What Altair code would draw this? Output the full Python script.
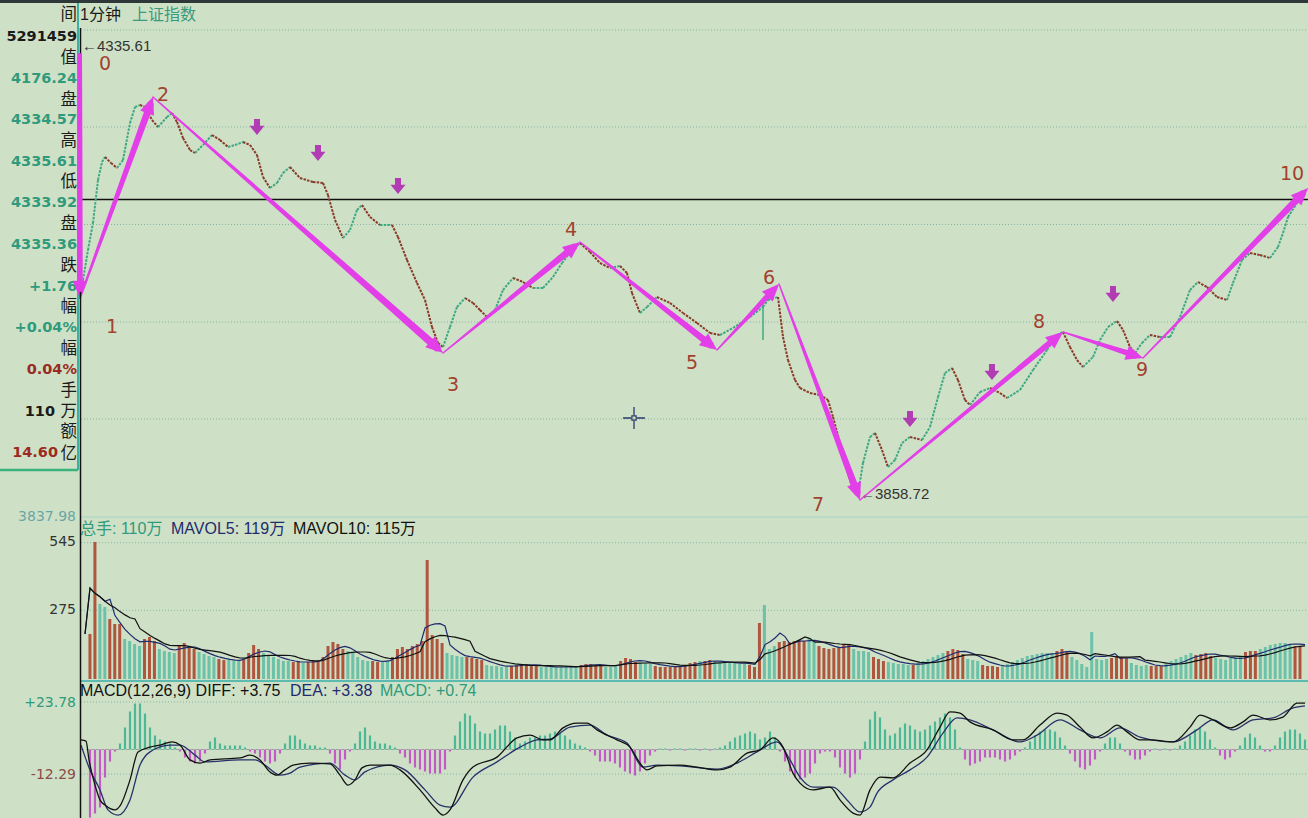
import math
import altair as alt
import numpy as np
import pandas as pd

# ---------------- data ----------------
# 1-minute index price (time in minutes, price in index points)
PRICE_T = [0.2, 0.6, 1.6, 2.6, 3.6, 4.4, 5.0, 6.2, 7.4, 8.6,
           10.0, 11.0, 12.0, 13.0, 14.4, 15.6, 17.4, 18.4, 19.4, 20.6,
           22.0, 23.0, 24.6, 26.4, 28.0, 29.6, 31.0, 32.6, 34.0, 35.4,
           36.6, 38.0, 39.4, 40.6, 42.0, 44.0, 46.6, 48.6, 49.6, 51.0,
           52.6, 54.0, 55.4, 56.4, 58.0, 60.0, 62.4, 63.6, 65.4, 67.4,
           69.0, 70.4, 71.6, 72.6, 74.0, 75.4, 77.0, 78.6, 80.0, 81.4,
           83.0, 84.6, 86.6, 88.6, 90.6, 92.6, 94.6, 96.4, 98.4, 100.0,
           102.0, 104.0, 106.0, 108.0, 109.4, 110.4, 112.0, 113.4, 115.4, 118.0,
           120.6, 123.4, 126.0, 128.0, 130.6, 134.0, 136.6, 137.6, 139.6, 140.6,
           141.6, 143.0, 144.0, 146.0, 148.0, 149.6, 150.6, 152.0, 153.4, 154.6,
           155.6, 156.6, 158.0, 159.0, 160.4, 161.6, 163.0, 164.4, 166.0, 168.4,
           170.0, 171.6, 173.0, 174.4, 175.6, 177.0, 178.0, 180.0, 182.0, 184.0,
           185.4, 188.0, 190.6, 193.4, 195.4, 196.6, 198.0, 199.4, 200.6, 202.6,
           204.0, 205.6, 207.4, 208.6, 210.0, 211.0, 212.4, 214.0, 216.0, 218.0,
           220.0, 222.0, 223.6, 225.4, 227.4, 229.4, 230.6, 232.4, 234.0, 236.0,
           238.0, 239.6, 240.6, 241.6, 243.4, 245.0]
PRICE_P = [4061, 4073, 4103, 4130, 4173, 4191, 4196, 4190, 4185, 4193,
           4230, 4246, 4248, 4246, 4233, 4226, 4236, 4240, 4231, 4215,
           4203, 4200, 4208, 4218, 4213, 4206, 4208, 4211, 4208, 4198,
           4176, 4165, 4170, 4180, 4186, 4175, 4171, 4170, 4158, 4133,
           4115, 4123, 4143, 4148, 4136, 4128, 4128, 4116, 4093, 4070,
           4053, 4026, 4010, 4006, 4026, 4046, 4055, 4050, 4043, 4036,
           4043, 4063, 4075, 4071, 4065, 4065, 4076, 4090, 4103, 4110,
           4101, 4090, 4085, 4087, 4080, 4060, 4040, 4046, 4056, 4050,
           4040, 4030, 4020, 4018, 4025, 4036, 4046, 4053, 4056, 4016,
           3993, 3973, 3965, 3960, 3958, 3953, 3936, 3910, 3883, 3863,
           3858.72, 3890, 3916, 3920, 3903, 3886, 3893, 3910, 3916, 3913,
           3926, 3956, 3980, 3985, 3973, 3953, 3948, 3961, 3965, 3960,
           3955, 3963, 3983, 4003, 4018, 4021, 4006, 3993, 3986, 3996,
           4013, 4026, 4032, 4023, 4006, 4000, 4010, 4018, 4016, 4016,
           4036, 4063, 4071, 4066, 4056, 4053, 4070, 4093, 4100, 4098,
           4095, 4106, 4120, 4136, 4150, 4158]
SPIKE_T = [136.6]
SPIKE_LOW = [4013]
SPIKE_HIGH = [4052]
PREV_CLOSE = 4153.5
PRICE_GRID = [4323, 4226, 4128.5, 4031, 3934]

# hand-drawn wave points 0..10 and their labels
WAVE_NAMES = ["0", "1", "2", "3", "4", "5", "6", "7", "8", "9", "10"]
WAVE_T = [0.0, 0.0, 14.6, 72.6, 100.0, 127.4, 139.8, 156.0, 196.6, 212.6, 245.6]
WAVE_P = [4298, 4055, 4256, 4000, 4111, 4003, 4069, 3853, 4021, 3995, 4165]
LABEL_T = [5.0, 6.4, 16.6, 74.6, 98.2, 122.4, 137.8, 147.6, 191.8, 212.4, 242.4]
LABEL_P = [4289, 4026, 4258, 3968, 4123, 3990, 4075, 3848, 4031, 3983, 4179]
SELL_T = [35.4, 47.6, 63.6, 166.0, 182.4, 206.6]
SELL_P = [4226, 4200, 4167, 3934, 3981, 4059]

# volume per minute (t = 1..245) and bar colour (r = red, g = green)
VOL = [180, 548, 300, 288, 240, 220, 220, 160, 152, 140,
       132, 160, 168, 152, 120, 112, 108, 104, 136, 144,
       132, 120, 108, 100, 92, 88, 80, 76, 76, 72,
       72, 76, 104, 136, 120, 104, 96, 88, 80, 72,
       72, 68, 68, 64, 68, 72, 72, 88, 132, 148,
       140, 120, 112, 104, 88, 76, 72, 72, 68, 68,
       72, 88, 120, 128, 120, 132, 140, 152, 476, 176,
       160, 144, 104, 96, 92, 88, 88, 84, 80, 76,
       56, 52, 52, 48, 52, 52, 56, 60, 60, 56,
       52, 48, 48, 48, 48, 48, 48, 48, 52, 56,
       60, 60, 56, 56, 48, 48, 56, 72, 84, 80,
       68, 64, 64, 60, 52, 48, 48, 48, 52, 52,
       56, 64, 68, 72, 72, 76, 72, 64, 64, 64,
       64, 60, 64, 56, 48, 224, 296, 120, 132, 148,
       152, 148, 152, 156, 152, 160, 152, 132, 124, 120,
       124, 128, 140, 140, 120, 112, 112, 108, 88, 80,
       72, 68, 64, 60, 60, 56, 56, 64, 72, 80,
       88, 96, 104, 112, 120, 116, 100, 80, 76, 72,
       56, 52, 52, 48, 52, 60, 68, 76, 84, 92,
       96, 100, 104, 104, 104, 112, 120, 112, 88, 76,
       60, 48, 188, 80, 76, 80, 84, 92, 88, 84,
       64, 56, 52, 56, 52, 52, 52, 64, 72, 80,
       88, 96, 104, 96, 100, 104, 92, 84, 80, 76,
       84, 88, 92, 108, 112, 112, 120, 128, 136, 140,
       144, 144, 136, 132, 132]
VOL_SIDE = ("rrggrrrggg" "grrrggggrr" "rrggggrrgg" "grrrrggggg" "grrgrrrrrr"
            "rrgggggrrg" "grrrrrrrrr" "rrggggrrrr" "gggggrrrrr" "rggggggggr"
            "rrrrgggrrr" "rgggrrrrrr" "rrrgrrgggg" "gggrrrgggr" "rrrrrggrrr"
            "rrrrggggrr" "rgggggrggg" "gggrrrrggg" "rrrrgggggg" "gggggrrrgg"
            "ggggggrrrr" "ggggrrrggg" "gggrrrrggg" "gggrrrgggg" "gggrr")
VOL_GRID = [545, 275]

# MACD(12,26,9) histogram per minute (t = 1..245) and DIFF / DEA lines
MACD_HIST = [0, -34, -32, -29, -14, -6, -1, 3, 11, 19,
             23, 23, 18, 11, 7, 5, 4, 3, 1, -1,
             -4, -6, -7, -6, -2, 4, 6, 3, 2, 2,
             2, 2, 1, -1, -2, -4, -6, -7, -6, -2,
             3, 7, 7, 5, 3, 2, 2, 1, 1, -2,
             -7, -10, -5, -1, 3, 9, 11, 7, 4, 3,
             3, 2, 1, -2, -4, -7, -9, -10, -11, -12,
             -12, -12, -10, -1, 7, 14, 18, 17, 13, 9,
             8, 8, 10, 12, 12, 9, 6, 3, 4, 6,
             6, 7, 7, 8, 9, 8, 7, 5, 3, 2,
             1, -1, -3, -6, -6, -6, -7, -9, -11, -12,
             -13, -11, -7, -3, -1, 0.5, 0.5, -0.5, 0.5, 0.5,
             -0.5, 0.5, 0.5, -0.5, 0.5, -0.5, 0.5, 1, 2, 4,
             6, 7, 8, 9, 8, 5, 6, 9, 6, -1,
             -6, -11, -14, -15, -14, -12, -7, -2, -1, -1,
             -4, -9, -12, -14, -12, -5, 4, 15, 19, 16,
             10, 7, 8, 11, 13, 12, 10, 9, 10, 12,
             14, 16, 18, 16, 10, 1, -5, -8, -7, -6,
             -4, -4, -4, -5, -6, -5, -3, -1, 1, 4,
             7, 9, 10, 10, 9, 6, 2, -2, -6, -9,
             -10, -8, -5, -1, 3, 6, 6, 3, -1, -3,
             -5, -5, -3, -1, 0.5, -0.5, 0.5, -0.5, 0.5, 2,
             4, 7, 10, 11, 9, 5, 1, -3, -5, -4,
             -1, 2, 6, 8, 6, 2, -1, -1, 2, 6,
             9, 10, 10, 8, 5]
DIFF_T = [0.2, 1.2, 1.8, 3.0, 4.0, 5.0, 7.0, 8.0, 10.0, 11.6,
          14.0, 16.0, 18.4, 20.0, 22.0, 24.0, 26.0, 32.0, 34.0, 36.0,
          38.0, 39.4, 41.0, 42.6, 46.0, 50.0, 52.0, 53.6, 55.0, 56.4,
          58.0, 62.0, 64.0, 68.0, 71.0, 72.6, 74.0, 76.6, 78.6, 83.4,
          87.4, 90.0, 92.6, 94.0, 96.6, 99.4, 101.4, 103.4, 107.4, 110.0,
          112.0, 113.4, 115.4, 120.0, 123.4, 127.4, 130.0, 133.4, 136.0, 138.6,
          140.6, 142.6, 144.0, 146.6, 150.0, 152.0, 154.6, 156.0, 158.0, 160.0,
          162.6, 166.0, 169.4, 172.0, 174.0, 176.0, 178.0, 182.6, 186.6, 188.6,
          192.0, 195.4, 197.4, 200.0, 202.6, 205.4, 207.4, 209.4, 212.0, 214.0,
          218.6, 222.0, 224.0, 226.6, 230.0, 232.6, 234.6, 238.0, 240.6, 243.4, 245.0]
DIFF_V = [4.8, 4.2, -5.2, -17.8, -25.2, -27.8, -30.2, -28.2, -15.2, -1.2,
          1.2, 2.2, 3.8, 2.2, -5.2, -6.8, -5.2, -4.2, -2.8, -5.2,
          -11.2, -12.8, -10.2, -7.8, -6.8, -7.2, -12.8, -17.8, -15.2, -9.2,
          -7.8, -7.8, -10.2, -20.2, -29.2, -32.8, -30.2, -15.2, -8.8, -3.8,
          5.8, 7.2, 4.8, 4.8, 10.8, 13.2, 13.2, 9.8, 4.8, 1.2,
          -6.8, -10.2, -8.2, -7.8, -8.8, -10.2, -8.8, -1.8, -0.2, 5.8,
          1.2, -11.8, -16.8, -20.2, -18.8, -25.2, -31.8, -32.8, -20.2, -13.8,
          -14.2, -6.8, -0.2, 11.2, 18.8, 18.2, 13.8, 9.8, 4.8, 4.8,
          12.2, 18.2, 17.2, 11.2, 5.8, 8.8, 12.2, 8.8, 4.8, 4.8,
          3.8, 11.2, 17.2, 14.8, 10.8, 13.8, 17.2, 14.8, 16.2, 23.2, 23.2]
DEA_T = [0.2, 2.0, 4.0, 5.6, 7.6, 10.0, 12.0, 14.0, 18.0, 20.0,
         23.0, 25.0, 32.0, 35.0, 37.0, 40.0, 42.0, 44.0, 50.0, 53.0,
         55.0, 57.0, 62.0, 65.0, 69.0, 72.0, 74.0, 78.6, 83.4, 88.0,
         91.4, 94.0, 98.0, 102.0, 105.4, 109.4, 112.6, 115.4, 120.0, 127.4,
         131.4, 135.4, 139.4, 142.0, 144.0, 146.6, 150.6, 153.4, 156.0, 158.0,
         159.4, 162.6, 166.0, 169.4, 172.6, 175.4, 178.0, 182.6, 188.0, 191.4,
         196.0, 200.0, 204.0, 208.0, 212.0, 218.6, 223.4, 226.6, 230.6, 234.6,
         238.6, 242.6, 245.0]
DEA_V = [2.2, -10.2, -20.2, -30.2, -32.8, -25.2, -7.8, -1.2, 2.2, 2.2,
         -2.8, -6.2, -5.2, -5.2, -7.8, -12.8, -11.8, -8.8, -6.8, -12.8,
         -15.2, -11.2, -7.8, -10.2, -20.2, -27.8, -28.8, -13.8, -6.2, 1.2,
         4.8, 5.2, 11.2, 12.2, 7.2, 3.2, -8.8, -7.8, -8.2, -9.8,
         -6.8, -1.2, 3.8, -5.2, -13.8, -18.8, -18.8, -25.2, -31.2, -28.8,
         -21.8, -15.2, -10.2, -3.8, 8.2, 15.8, 14.8, 9.8, 3.8, 7.2,
         14.8, 9.8, 5.8, 10.8, 6.2, 3.8, 9.8, 14.8, 9.8, 14.8,
         15.8, 20.8, 21.8]
MACD_GRID = [23.78, -12.29]

# texts
SIDEBAR_LABELS = ["间", "值", "盘", "高", "低", "盘", "跌", "幅", "幅", "手", "万", "额", "亿"]
SIDEBAR_VALUES = ["5291459", "4176.24", "4334.57", "4335.61", "4333.92", "4335.36",
                  "+1.76", "+0.04%", "0.04%", "110", "14.60"]

# ---------------- styling / layout ----------------
BG = "#CEE1C6"
UP_LINE = "#3FA882"
DOWN_LINE = "#8A3828"
MAGENTA = "#E23FE8"
PURPLE = "#B23CB4"
TEAL_TXT = "#2F9A7C"
RED_TXT = "#9B2B22"
NAVY = "#1F2B6E"
DARK = "#1A1A1A"
VOL_RED = "#B0563F"
VOL_GREEN = "#6CC2A8"
HIST_GREEN = "#4DB895"
HIST_MAG = "#C35BC6"
GRID = "#86B3A6"

T_RANGE = [80, 1305]
T_DOM = [0, 245]
P_DOM = [3838, 4325]
P_RANGE = [515, 28]
XS = alt.Scale(domain=T_DOM, range=T_RANGE, nice=False, zero=False)
PS = alt.Scale(domain=P_DOM, range=P_RANGE, nice=False, zero=False)
VS = alt.Scale(domain=[0, 556], range=[679, 540], nice=False, zero=False)
MS = alt.Scale(domain=[-34.25, 32.25], range=[818, 685], nice=False, zero=False)
PX_PER_T = (T_RANGE[1] - T_RANGE[0]) / (T_DOM[1] - T_DOM[0])
PX_PER_P = (P_RANGE[0] - P_RANGE[1]) / (P_DOM[1] - P_DOM[0])

W_START = [4, 2, 1.5, 1.5, 1.5, 1.5, 1.5, 1.5, 1.5, 1.5]
W_END = [5, 7, 8, 7, 7, 6, 7, 6, 6, 7]
HEAD_BACK = 8.5
HEAD_SHAPE = "M0,-1L0.85,1L-0.85,1Z"
SELL_SHAPE = "M-0.38,-1L0.38,-1L0.38,-0.15L0.95,-0.15L0,1L-0.95,-0.15L-0.38,-0.15Z"
CROSS_SHAPE = "M-1,0L-0.25,0M0.25,0L1,0M0,-1L0,-0.25M0,0.25L0,1"


def X(f):
    return alt.X(f, type="quantitative", scale=XS, axis=None)


def Y(f, sc):
    return alt.Y(f, type="quantitative", scale=sc, axis=None)


def PX(f):
    return alt.X(f, type="quantitative", scale=None, axis=None)


def PY(f):
    return alt.Y(f, type="quantitative", scale=None, axis=None)


def pix_text(rows, **mark):
    df = pd.DataFrame(rows, columns=["text", "x", "y", "color"])
    return alt.Chart(df).mark_text(baseline="middle", **mark).encode(
        x=PX("x"), y=PY("y"), text="text:N", color=alt.Color("color:N", scale=None))


layers = []

# ---- frame lines ----
frame = pd.DataFrame([
    (0, 1308, 1.5, 1.5, "#2E3838", 3),
    (78, 78, 3, 470, "#3DB0A2", 2),
    (0, 78, 470, 470, "#3BB27E", 2.5),
    (80, 1308, 517, 517, "#A8D2C4", 1),
    (80, 1308, 681, 681, "#5DBAB0", 2),
], columns=["x", "x2", "y", "y2", "color", "w"])
layers.append(alt.Chart(frame).mark_rule().encode(
    x=PX("x"), x2="x2", y=PY("y"), y2="y2",
    color=alt.Color("color:N", scale=None), strokeWidth=alt.StrokeWidth("w:Q", scale=None)))

# ---- grid lines ----
def grid(values, sc, dash=(1, 2), color=GRID, width=1):
    return alt.Chart(pd.DataFrame({"g": values})).mark_rule(
        strokeDash=list(dash), color=color, strokeWidth=width).encode(
        y=Y("g", sc), x=alt.value(81), x2=alt.value(1308))

layers.append(grid(PRICE_GRID, PS))
layers.append(grid([PREV_CLOSE], PS, dash=(1, 0), color="#111111", width=1.5))
layers.append(grid(VOL_GRID, VS))
layers.append(grid(MACD_GRID, MS))
layers.append(grid([0], MS, dash=(3, 2), color="#9AA5A0", width=1))

# ---- volume ----
vol = pd.DataFrame({"t": list(range(1, len(VOL) + 1)), "v": VOL, "side": list(VOL_SIDE)})
vol["color"] = np.where(vol.side == "r", VOL_RED, VOL_GREEN)
vol["ma5"] = vol.v.rolling(5, min_periods=1).mean()
vol["ma10"] = vol.v.rolling(10, min_periods=1).mean()
layers.append(alt.Chart(vol).mark_bar(size=3).encode(
    x=X("t"), y=Y("v", VS), y2=alt.datum(0), color=alt.Color("color:N", scale=None)))
layers.append(alt.Chart(vol).mark_line(color=NAVY, strokeWidth=1.2).encode(x=X("t"), y=Y("ma5", VS)))
layers.append(alt.Chart(vol).mark_line(color="#111111", strokeWidth=1.2).encode(x=X("t"), y=Y("ma10", VS)))

# ---- MACD ----
mh = pd.DataFrame({"t": list(range(1, len(MACD_HIST) + 1)), "m": MACD_HIST})
mh["color"] = np.where(mh.m >= 0, HIST_GREEN, HIST_MAG)
layers.append(alt.Chart(mh).mark_rule(strokeWidth=2.2).encode(
    x=X("t"), y=Y("m", MS), y2=alt.datum(0), color=alt.Color("color:N", scale=None)))
layers.append(alt.Chart(pd.DataFrame({"t": DEA_T, "v": DEA_V})).mark_line(
    color="#26306A", strokeWidth=1.3, interpolate="monotone").encode(x=X("t"), y=Y("v", MS)))
layers.append(alt.Chart(pd.DataFrame({"t": DIFF_T, "v": DIFF_V})).mark_line(
    color="#111111", strokeWidth=1.3, interpolate="monotone").encode(x=X("t"), y=Y("v", MS)))

# ---- sidebar texts ----
LABEL_Y = [15, 58, 100, 141, 182, 224, 266, 307, 349, 391, 412, 432, 454]
layers.append(pix_text([(s, 77, y, DARK) for s, y in zip(SIDEBAR_LABELS, LABEL_Y)],
                       align="right", font="Noto Sans CJK SC", fontSize=16.5))
VALUE_POS = [(77, 37, DARK), (77, 79, TEAL_TXT), (77, 120, TEAL_TXT), (77, 162, TEAL_TXT),
             (77, 203, TEAL_TXT), (77, 245, TEAL_TXT), (77, 287, TEAL_TXT), (77, 328, TEAL_TXT),
             (77, 370, RED_TXT), (55, 412, DARK), (58, 453, RED_TXT)]
layers.append(pix_text([(s, x, y, c) for s, (x, y, c) in zip(SIDEBAR_VALUES, VALUE_POS)],
                       align="right", font="DejaVu Sans", fontSize=14.5, fontWeight="bold"))

# ---- axis labels ----
layers.append(pix_text([("3837.98", 76, 517, "#6AA6A6"), ("545", 76, 542, "#333333"),
                        ("275", 76, 610, "#333333"), ("+23.78", 76, 703, TEAL_TXT),
                        ("-12.29", 76, 775, "#8C4A48")],
                       align="right", font="DejaVu Sans", fontSize=14))

# ---- titles ----
layers.append(pix_text([("1分钟", 80, 15, DARK), ("上证指数", 132, 15, "#3A9A80")],
                       align="left", font="Liberation Sans, Noto Sans CJK SC", fontSize=16))
layers.append(pix_text([("总手: 110万", 80, 529, TEAL_TXT), ("MAVOL5: 119万", 171, 529, NAVY),
                        ("MAVOL10: 115万", 293, 529, "#111111"),
                        ("MACD(12,26,9) DIFF: +3.75", 80, 691, "#111111"),
                        ("DEA: +3.38", 290, 691, NAVY), ("MACD: +0.74", 380, 691, TEAL_TXT)],
                       align="left", font="Liberation Sans, Noto Sans CJK SC", fontSize=16))
layers.append(pix_text([("←4335.61", 82, 46, "#333333"), ("←3858.72", 860, 494, "#333333")],
                       align="left", font="Liberation Sans", fontSize=15))

# ---- price line (coloured by direction) ----
pr = pd.DataFrame({"t": PRICE_T, "p": PRICE_P})
seg = pd.DataFrame({"t0": pr.t.values[:-1], "p0": pr.p.values[:-1],
                    "t1": pr.t.values[1:], "p1": pr.p.values[1:]})
seg["color"] = np.where(seg.p1 >= seg.p0, UP_LINE, DOWN_LINE)
layers.append(alt.Chart(seg).mark_rule(strokeWidth=2, strokeDash=[2.5, 1.2]).encode(
    x=X("t0"), x2="t1", y=Y("p0", PS), y2="p1", color=alt.Color("color:N", scale=None)))
layers.append(alt.Chart(pd.DataFrame({"t": SPIKE_T, "lo": SPIKE_LOW, "hi": SPIKE_HIGH})).mark_rule(
    color=UP_LINE, strokeWidth=1.5).encode(x=X("t"), y=Y("lo", PS), y2="hi"))

# ---- wave arrows ----
trail_rows, head_rows = [], []
for i in range(len(WAVE_T) - 1):
    ta, pa, tb, pb = WAVE_T[i], WAVE_P[i], WAVE_T[i + 1], WAVE_P[i + 1]
    dx = (tb - ta) * PX_PER_T
    dy = -(pb - pa) * PX_PER_P
    L = math.hypot(dx, dy)
    ux, uy = dx / L, dy / L
    ang = math.degrees(math.atan2(ux, -uy)) % 360
    tc = tb - ux * HEAD_BACK / PX_PER_T
    pc = pb + uy * HEAD_BACK / PX_PER_P
    trail_rows.append({"seg": i, "o": 0, "t": ta, "p": pa, "w": W_START[i]})
    trail_rows.append({"seg": i, "o": 1, "t": tc, "p": pc, "w": W_END[i]})
    head_rows.append({"t": tc, "p": pc, "ang": ang})
layers.append(alt.Chart(pd.DataFrame(trail_rows)).mark_trail(color=MAGENTA).encode(
    x=X("t"), y=Y("p", PS), size=alt.Size("w:Q", scale=None, legend=None),
    detail="seg:N", order="o:Q"))
layers.append(alt.Chart(pd.DataFrame(head_rows)).mark_point(
    shape=HEAD_SHAPE, filled=True, color=MAGENTA, opacity=1, size=300, strokeWidth=0).encode(
    x=X("t"), y=Y("p", PS), angle=alt.Angle("ang:Q", scale=None)))

# ---- sell markers (small purple down arrows) ----
layers.append(alt.Chart(pd.DataFrame({"t": SELL_T, "p": SELL_P})).mark_point(
    shape=SELL_SHAPE, filled=True, color=PURPLE, opacity=1, size=250, strokeWidth=0).encode(
    x=X("t"), y=Y("p", PS)))

# ---- wave labels ----
layers.append(alt.Chart(pd.DataFrame({"t": LABEL_T, "p": LABEL_P, "n": WAVE_NAMES})).mark_text(
    font="DejaVu Sans", fontSize=19, color="#A3412F", baseline="middle", align="center").encode(
    x=X("t"), y=Y("p", PS), text="n:N"))

# ---- cursor crosshair ----
cur = pd.DataFrame({"x": [634], "y": [418]})
layers.append(alt.Chart(cur).mark_point(shape=CROSS_SHAPE, filled=False, color="#2A3A6A",
                                        size=480, strokeWidth=1.3, opacity=1).encode(x=PX("x"), y=PY("y")))
layers.append(alt.Chart(cur).mark_point(shape="square", filled=False, color="#2A3A6A",
                                        size=18, strokeWidth=1.2, opacity=1).encode(x=PX("x"), y=PY("y")))

# ---- price axis line (on top) ----
layers.append(alt.Chart(pd.DataFrame({"x": [80.5], "y": [28], "y2": [818]})).mark_rule(
    color="#111111", strokeWidth=1.5).encode(x=PX("x"), y=PY("y"), y2="y2"))
# the 0->1 arrow sits over the axis line
layers.append(alt.Chart(pd.DataFrame(trail_rows[:2])).mark_trail(color=MAGENTA).encode(
    x=X("t"), y=Y("p", PS), size=alt.Size("w:Q", scale=None, legend=None), order="o:Q"))

chart = (alt.layer(*layers)
         .resolve_scale(x="independent", y="independent")
         .properties(width=1308, height=818, padding=0,
                     autosize=alt.AutoSizeParams(type="none"), background=BG)
         .configure_view(stroke=None))

chart.save("out.html", embed_options={"renderer": "svg", "actions": False})
